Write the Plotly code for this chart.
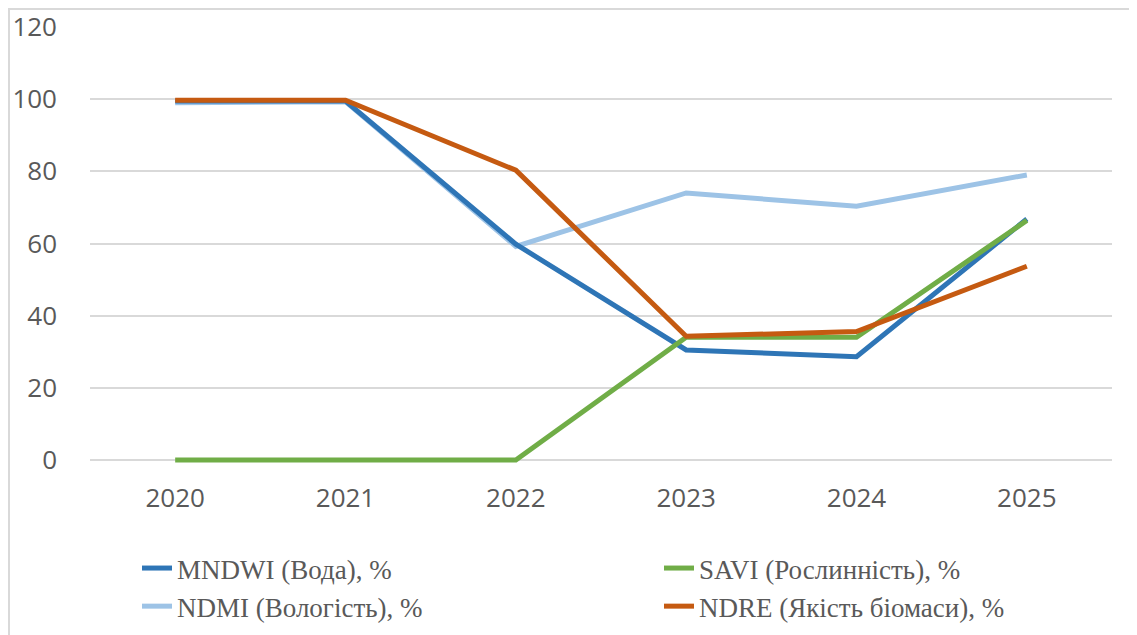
import plotly.graph_objects as go

years = ["2020", "2021", "2022", "2023", "2024", "2025"]
mndwi = [99.5, 99.5, 59.8, 30.5, 28.6, 66.8]
savi = [0, 0, 0, 34.0, 34.0, 66.4]
ndmi = [99.0, 99.3, 59.2, 74.0, 70.3, 79.0]
ndre = [99.7, 99.7, 80.3, 34.3, 35.6, 53.7]

names = ["MNDWI (Вода), %", "SAVI (Рослинність), %", "NDMI (Вологість), %", "NDRE (Якість біомаси), %"]
colors = ["#2E75B6", "#70AD47", "#9DC3E6", "#C55A11"]
series = [mndwi, savi, ndmi, ndre]
legend_of = ["legend", "legend2", "legend", "legend2"]
draw_order = [2, 0, 1, 3]

fig = go.Figure()
for i in draw_order:
    fig.add_trace(go.Scatter(x=years, y=series[i], mode="lines", name=names[i],
                             line=dict(color=colors[i], width=5), cliponaxis=False,
                             legend=legend_of[i], legendrank=i + 1))

# page is offset by the default 8px body margin
OFF = 8
W, H = 1137, 635
EXT = 3  # extra pixels below the zero line so the zero-valued line is not clipped
L, T = 90 - OFF, 27 - OFF
R = W - (1112 - OFF)
B = H - (460 + EXT - OFF)
pw, ph = W - L - R, H - T - B
ymin = -EXT * 120 / (ph - EXT)

legfont = dict(family="Liberation Serif", size=27, color="#595959")
leg_top = (T + ph - (544 - OFF)) / ph

fig.update_layout(
    width=W, height=H,
    margin=dict(l=L, r=R, t=T, b=B, autoexpand=False),
    paper_bgcolor="white", plot_bgcolor="white",
    font=dict(family="Open Sans", color="#595959", size=26),
    showlegend=True,
    legend=dict(orientation="v", x=(137 - OFF - L) / pw, y=leg_top, xanchor="left", yanchor="top",
                font=legfont, traceorder="normal", bgcolor="rgba(0,0,0,0)"),
    legend2=dict(orientation="v", x=(659 - OFF - L) / pw, y=leg_top, xanchor="left", yanchor="top",
                 font=legfont, traceorder="normal", bgcolor="rgba(0,0,0,0)"),
    xaxis=dict(type="category", range=[-0.5, 5.5], showgrid=False, showline=False,
               ticks="", ticklabelstandoff=17, tickfont=dict(size=26)),
    yaxis=dict(range=[ymin, 120], dtick=20, tick0=0, showgrid=True, gridcolor="#D9D9D9",
               gridwidth=1.5, zeroline=False, showline=False, ticks="",
               ticklabelstandoff=32, tickfont=dict(size=26)),
    shapes=[dict(type="rect", xref="paper", yref="paper",
                 x0=(1 - L) / pw, x1=(W + 20 - L) / pw,
                 y0=(T + ph - (H + 20)) / ph, y1=(T + ph - 1) / ph,
                 line=dict(color="#D9D9D9", width=2), layer="below")],
)

fig.write_html("out.html")
